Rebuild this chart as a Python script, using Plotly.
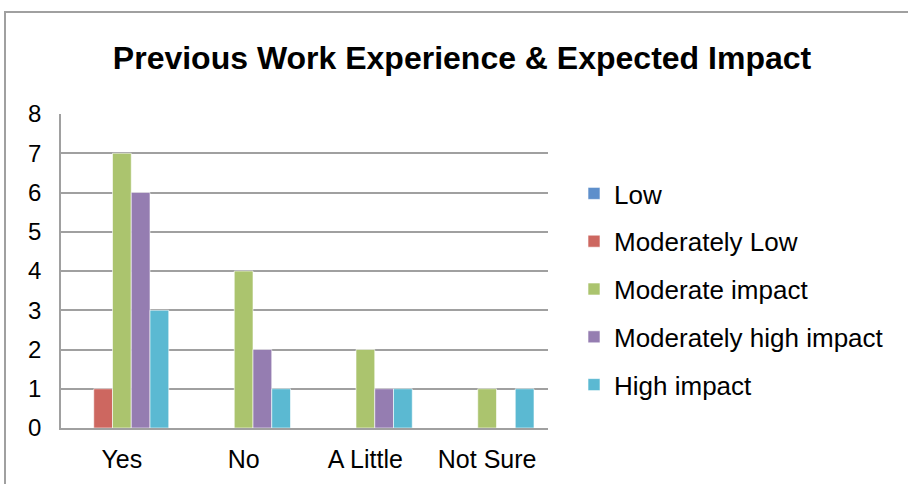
import plotly.graph_objects as go

categories = ["Yes", "No", "A Little", "Not Sure"]
series_names = ["Low", "Moderately Low", "Moderate impact", "Moderately high impact", "High impact"]
low = [0, 0, 0, 0]
moderately_low = [1, 0, 0, 0]
moderate = [7, 4, 2, 1]
moderately_high = [6, 2, 1, 0]
high = [3, 1, 1, 1]
colors = ["#5E8FCB", "#CD6760", "#ABC46E", "#957DB1", "#5BB9D2"]
y_ticks = [0, 1, 2, 3, 4, 5, 6, 7, 8]

values = [low, moderately_low, moderate, moderately_high, high]

L, R, T, B = 61, 548, 114, 428
W, H = 908, 484

fig = go.Figure()
for i, (name, vals, col) in enumerate(zip(series_names, values, colors)):
    fig.add_trace(go.Bar(
        x=categories, y=vals, name=name, legendgroup=str(i),
        marker=dict(color=col, line=dict(color="white", width=0.6)),
    ))

def px_x(p):
    return (p - L) / (R - L)

def px_y(p):
    return (B - p) / (B - T)

fig.update_layout(
    width=W, height=H,
    margin=dict(l=L, r=W - R, t=T, b=H - B),
    paper_bgcolor="white", plot_bgcolor="white",
    barmode="group", bargap=0.23, bargroupgap=0,
    font=dict(family="Liberation Sans, Arial, sans-serif", color="black", size=24),
    title=dict(text="<b>Previous Work Experience & Expected Impact</b>",
               font=dict(size=32, color="black"),
               x=px_x(462), xref="paper", xanchor="center",
               y=1 - 58 / H, yref="container", yanchor="middle"),
    showlegend=True,
    legend=dict(x=px_x(574), y=px_y(170), xanchor="left", yanchor="top",
                traceorder="grouped", tracegroupgap=11,
                font=dict(size=26), bgcolor="rgba(0,0,0,0)"),
    xaxis=dict(showline=True, linecolor="#A0A0A0", linewidth=1.5,
               ticks="", showgrid=False, tickfont=dict(size=25),
               ticklabelstandoff=8),
    yaxis=dict(range=[0, 8], tickvals=y_ticks, showgrid=True,
               gridcolor="#A0A0A0", gridwidth=1.5,
               showline=True, linecolor="#A0A0A0", linewidth=1.5,
               zeroline=False, ticks="", tickfont=dict(size=24),
               ticklabelstandoff=13),
    shapes=[dict(type="rect", xref="paper", yref="paper",
                 x0=px_x(5), x1=px_x(W + 20), y0=px_y(H + 20), y1=px_y(12),
                 line=dict(color="#A0A0A0", width=2), layer="below")],
)

fig.write_html("out.html", config={"displayModeBar": False},
               post_script="document.body.style.margin='0px';")
